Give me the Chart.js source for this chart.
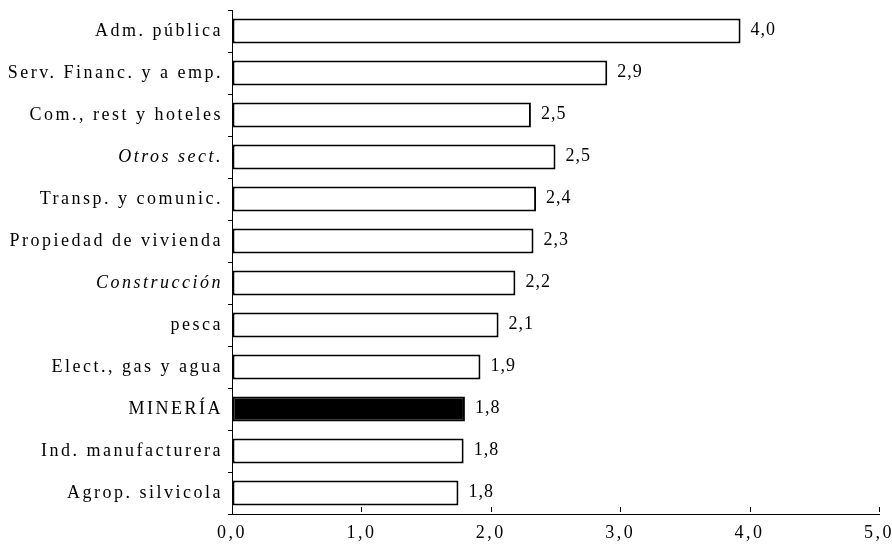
<!DOCTYPE html>
<html>
<head>
<meta charset="utf-8">
<script src="https://cdn.jsdelivr.net/npm/chart.js@4.4.0/dist/chart.umd.min.js"></script>
<style>
  html, body { margin: 0; padding: 0; background: #fff; }
  #wrap { width: 892px; height: 551px; }
</style>
</head>
<body>
<div id="wrap"><canvas id="chart"></canvas></div>
<script>
// Sectores (de arriba hacia abajo)
const sectors = [
    'Adm. pública', 'Serv. Financ. y a emp.', 'Com., rest y hoteles', 'Otros sect.',
    'Transp. y comunic.', 'Propiedad de vivienda', 'Construcción', 'pesca',
    'Elect., gas y agua', 'MINERÍA', 'Ind. manufacturera', 'Agrop. silvicola'
];

// Largo de las barras
const values = [3.93, 2.90, 2.31, 2.50, 2.35, 2.33, 2.19, 2.06, 1.92, 1.80, 1.79, 1.75];

// Etiquetas que aparecen al lado de cada barra
const valueLabels = ['4,0', '2,9', '2,5', '2,5', '2,4', '2,3', '2,2', '2,1', '1,9', '1,8', '1,8', '1,8'];

// Etiquetas del eje x
const xTicks = ['0,0', '1,0', '2,0', '3,0', '4,0', '5,0'];

const italicSectors = ['Otros sect.', 'Construcción'];
const highlighted = 'MINERÍA';
const serif = "'Liberation Serif', 'DejaVu Serif', serif";

// Espaciado de letras como en el original escaneado
const spacingPlugin = {
    id: 'spacing',
    beforeDraw(chart) {
        chart.ctx.letterSpacing = '2.5px';
    }
};

// Valores a la derecha de cada barra
const valueLabelPlugin = {
    id: 'valueLabels',
    afterDatasetsDraw(chart) {
        const ctx = chart.ctx;
        const meta = chart.getDatasetMeta(0);
        ctx.save();
        ctx.font = '18px ' + serif;
        ctx.letterSpacing = '1px';
        ctx.fillStyle = '#000';
        ctx.textAlign = 'left';
        ctx.textBaseline = 'middle';
        meta.data.forEach((bar, i) => {
            ctx.fillText(valueLabels[i], bar.x + 10, bar.y - 1);
        });
        ctx.restore();
    }
};

// Pequeñas marcas hacia arriba en el eje x
const xTickMarks = {
    id: 'xTickMarks',
    afterDraw(chart) {
        const ctx = chart.ctx;
        const x = chart.scales.x;
        ctx.save();
        ctx.strokeStyle = '#000';
        ctx.lineWidth = 1;
        ctx.beginPath();
        for (let v = 0; v <= 5; v++) {
            const px = Math.round(x.getPixelForValue(v)) + 0.5;
            ctx.moveTo(px, x.top - 2);
            ctx.lineTo(px, x.top - 7);
        }
        ctx.stroke();
        ctx.restore();
    }
};

const ctx = document.getElementById('chart').getContext('2d');
new Chart(ctx, {
    type: 'bar',
    data: {
        labels: sectors,
        datasets: [{
            data: values,
            backgroundColor: sectors.map(s => s === highlighted ? '#000' : '#fff'),
            borderColor: '#000',
            borderWidth: 2,
            borderSkipped: false,
            barPercentage: 0.6,
            categoryPercentage: 1
        }]
    },
    options: {
        indexAxis: 'y',
        responsive: true,
        maintainAspectRatio: false,
        animation: false,
        layout: { padding: { left: 0, right: 13, top: 10, bottom: 0 } },
        plugins: {
            legend: { display: false },
            tooltip: { enabled: false }
        },
        scales: {
            x: {
                min: 0,
                max: 5,
                ticks: {
                    stepSize: 1,
                    color: '#000',
                    padding: 8,
                    font: { family: serif, size: 18 },
                    callback: (v) => xTicks[v]
                },
                grid: {
                    drawOnChartArea: false,
                    drawTicks: false,
                    color: '#000'
                },
                border: { color: '#000', width: 1 },
                afterFit: (scale) => {
                    scale.height = 37;
                    scale.paddingLeft = 0;
                    scale.paddingRight = 0;
                }
            },
            y: {
                ticks: {
                    color: '#000',
                    padding: 5,
                    font: (c) => ({
                        family: serif,
                        size: 18,
                        style: italicSectors.includes(sectors[c.index]) ? 'italic' : 'normal'
                    })
                },
                grid: {
                    offset: true,
                    drawOnChartArea: false,
                    tickLength: 4,
                    color: '#000'
                },
                border: { color: '#000', width: 1 },
                afterFit: (scale) => {
                    scale.width = 232;
                    scale.paddingTop = 0;
                    scale.paddingBottom = 0;
                }
            }
        }
    },
    plugins: [spacingPlugin, valueLabelPlugin, xTickMarks]
});
</script>
</body>
</html>
